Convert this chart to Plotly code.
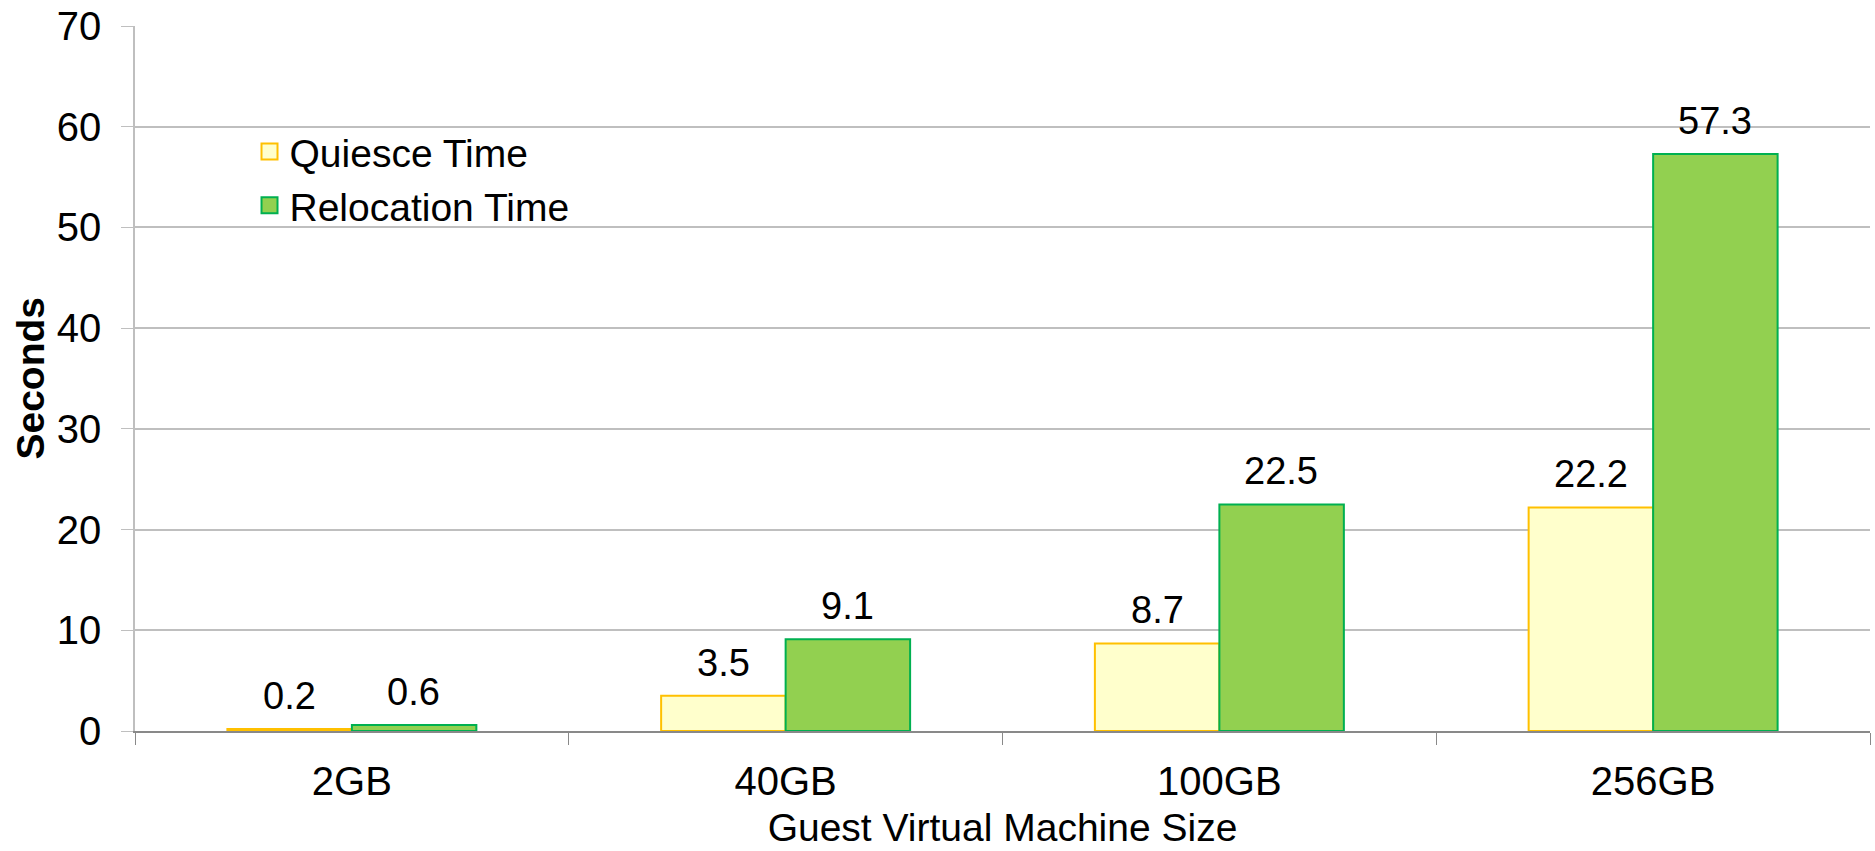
import plotly.graph_objects as go

sizes = ["2GB", "40GB", "100GB", "256GB"]
quiesce_time = [0.2, 3.5, 8.7, 22.2]
relocation_time = [0.6, 9.1, 22.5, 57.3]
y_ticks = [0, 10, 20, 30, 40, 50, 60, 70]

FONT = "Liberation Sans, Arial, sans-serif"
Q_FILL, Q_LINE = "#FFFFCC", "#FFC000"
R_FILL, R_LINE = "#92D050", "#00B050"

fig = go.Figure()
fig.add_trace(go.Bar(
    name="Quiesce Time", x=sizes, y=quiesce_time, showlegend=False,
    marker=dict(color=Q_FILL, line=dict(color=Q_LINE, width=2)),
))
fig.add_trace(go.Bar(
    name="Relocation Time", x=sizes, y=relocation_time, showlegend=False,
    marker=dict(color=R_FILL, line=dict(color=R_LINE, width=2)),
))

# legend entries with larger square swatches
for name, fill, line in [("Quiesce Time", Q_FILL, Q_LINE), ("Relocation Time", R_FILL, R_LINE)]:
    fig.add_trace(go.Scatter(
        x=[None], y=[None], mode="markers", name=name,
        marker=dict(symbol="square", size=19, color=fill, line=dict(color=line, width=2)),
    ))

# value labels above each bar
for series, shift in [(quiesce_time, -62), (relocation_time, 62)]:
    for cat, v in zip(sizes, series):
        fig.add_annotation(
            x=cat, y=v, xref="x", yref="y", text=f"{v:.1f}", showarrow=False,
            xshift=shift, yshift=33, yanchor="middle",
            font=dict(size=38, color="#000000", family=FONT),
        )

# y-axis title
fig.add_annotation(
    x=-0.0605, y=0.5, xref="paper", yref="paper", text="<b>Seconds</b>",
    textangle=-90, showarrow=False, xanchor="center", yanchor="middle",
    font=dict(size=39, color="#000000", family=FONT),
)

fig.update_layout(
    width=1875, height=851,
    margin=dict(l=135, r=5, t=26, b=120),
    paper_bgcolor="white", plot_bgcolor="white",
    barmode="group", bargap=0.426, bargroupgap=0,
    font=dict(family=FONT, size=40, color="#000000"),
    showlegend=True,
    legend=dict(
        x=0.066, y=0.867, xanchor="left", yanchor="top",
        bgcolor="rgba(0,0,0,0)", font=dict(size=39, family=FONT),
        itemwidth=30, tracegroupgap=0,
    ),
    xaxis=dict(
        title=dict(text="Guest Virtual Machine Size", font=dict(size=39), standoff=12),
        showline=True, linecolor="#898989", linewidth=1.5,
        ticks="outside", tickson="boundaries", ticklen=12, tickcolor="#898989",
        tickfont=dict(size=40), showgrid=False, ticklabelstandoff=14,
        automargin=False,
    ),
    yaxis=dict(
        range=[0, 70], tickvals=y_ticks,
        showline=True, linecolor="#BFBFBF", linewidth=1.5,
        ticks="outside", ticklen=12, tickcolor="#BFBFBF",
        showgrid=True, gridcolor="#BFBFBF", gridwidth=1.5,
        tickfont=dict(size=40), ticklabelstandoff=12, zeroline=False,
        automargin=False,
    ),
)

fig.write_html("out.html")
